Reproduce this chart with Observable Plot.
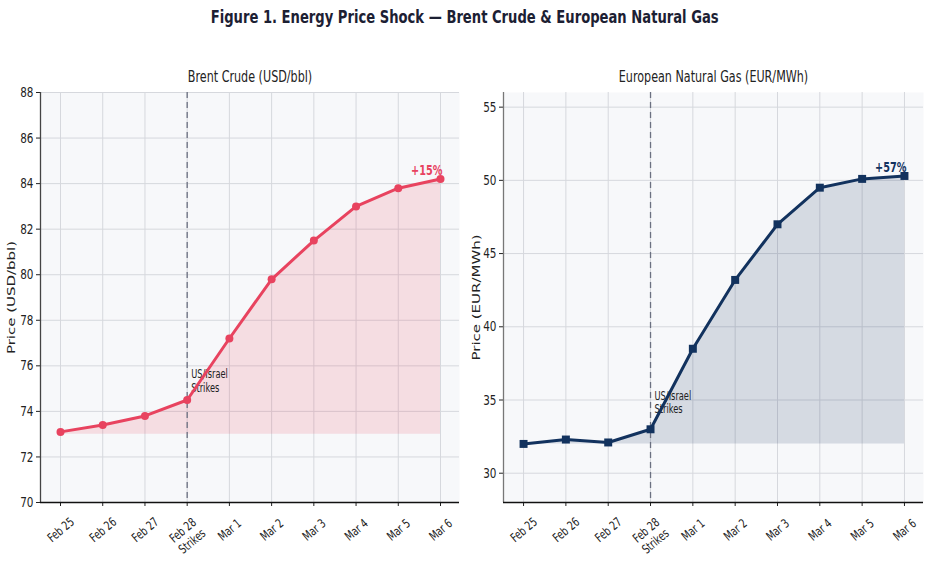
<!DOCTYPE html>
<html>
<head>
<meta charset="utf-8">
<script src="https://cdn.jsdelivr.net/npm/d3@7"></script>
<script src="https://cdn.jsdelivr.net/npm/@observablehq/plot@0.6"></script>
<style>
  body { margin: 0; background: #fff; width: 930px; height: 570px; overflow: hidden; font-family: "DejaVu Sans", sans-serif; }
  #title { height: 50px; text-align: center; }
  #title span { display: inline-block; margin-top: 6px; font-weight: bold; font-size: 18.5px; color: #1c2033; transform: scaleX(0.71); transform-origin: center; white-space: nowrap; }
  #panels { display: flex; }
  #panels svg { display: block; }
</style>
</head>
<body>
<div id="title"><span>Figure 1. Energy Price Shock — Brent Crude &amp; European Natural Gas</span></div>
<div id="panels"></div>
<script>
// Trading days shown on both panels
const days = ["Feb 25", "Feb 26", "Feb 27", "Feb 28", "Mar 1", "Mar 2", "Mar 3", "Mar 4", "Mar 5", "Mar 6"];
const strikeDay = "Feb 28";
const strikeNote = "US/Israel\nStrikes";

// Brent crude, USD per barrel
const brent = [73.1, 73.4, 73.8, 74.5, 77.2, 79.8, 81.5, 83.0, 83.8, 84.2];
const brentBase = 73.0;
const brentTicks = [70, 72, 74, 76, 78, 80, 82, 84, 86, 88];

// European natural gas (TTF), EUR per MWh
const gas = [32.0, 32.3, 32.1, 33.0, 38.5, 43.2, 47.0, 49.5, 50.1, 50.3];
const gasBase = 32.0;
const gasTicks = [30, 35, 40, 45, 50, 55];

const FONT = "DejaVu Sans";
const SQUEEZE = 0.72;
const yLabels = ["Price (USD/bbl)", "Price (EUR/MWh)"];

function panel(o) {
  const rows = days.map((day, i) => ({i, day, v: o.values[i]}));
  const last = rows[rows.length - 1];
  const si = days.indexOf(strikeDay);
  const idx = d3.range(days.length);
  const plain = idx.filter((i) => i !== si);
  const change = Math.round((last.v - rows[0].v) / rows[0].v * 100);
  const xDomain = [-0.474, days.length - 1 + 0.45];
  const tickText = {x: (i) => i, frameAnchor: "bottom", rotate: -40, textAnchor: "middle", lineAnchor: "middle", fontSize: 12.5, fill: "#222", lineHeight: 1.15};
  return Plot.plot({
    width: 465,
    height: 520,
    marginTop: 42,
    marginBottom: 68,
    marginLeft: o.marginLeft,
    marginRight: o.marginRight,
    style: {fontFamily: FONT, fontSize: "14px", color: "#222", background: "transparent", overflow: "visible"},
    x: {domain: xDomain, axis: null},
    y: {domain: o.yDomain, axis: null},
    marks: [
      Plot.frame({fill: "#f7f8fa", stroke: null}),
      Plot.gridX(idx, {stroke: "#d6d8dd", strokeOpacity: 1, strokeWidth: 1}),
      Plot.gridY(o.yTicks, {stroke: "#d6d8dd", strokeOpacity: 1, strokeWidth: 1}),
      Plot.areaY(rows, {x: "i", y1: o.base, y2: "v", fill: o.color, fillOpacity: 0.15}),
      Plot.ruleX([si], {stroke: "#6b7080", strokeWidth: 1.3, strokeDasharray: "6,4"}),
      Plot.text([strikeNote], {x: () => si, y: () => o.noteY, textAnchor: "start", lineAnchor: "top", dx: 4, fontSize: 11.5, fill: "#222", lineHeight: 1.2}),
      Plot.line(rows, {x: "i", y: "v", stroke: o.color, strokeWidth: 3}),
      Plot.dot(rows, {x: "i", y: "v", fill: o.color, stroke: null, symbol: o.symbol, r: o.r}),
      Plot.text([last], {x: "i", y: "v", text: () => `+${change}%`, textAnchor: "end", dx: 2, dy: -8, fontWeight: "bold", fontSize: 13.5, fill: o.color}),
      Plot.text([o.title], {frameAnchor: "top", lineAnchor: "middle", dy: -15, fontSize: 15.5, fill: "#222"}),
      Plot.axisY(o.yTicks, {tickSize: 4, tickPadding: 3, fontSize: 14.5, label: null, stroke: "#222"}),
      Plot.axisX(idx, {tickSize: 4, tickFormat: () => "", label: null, stroke: "#222"}),
      Plot.text(plain, {...tickText, text: (i) => days[i], dy: 27}),
      Plot.text([si], {...tickText, text: (i) => `${days[i]}\nStrikes`, dy: 33}),
      Plot.ruleX([xDomain[0]], {stroke: o.spine, strokeWidth: 1.3}),
      Plot.ruleY([o.yDomain[0]], {stroke: "#111", strokeWidth: 1.3}),
      Plot.text([o.yLabel], {frameAnchor: "left", textAnchor: "middle", lineAnchor: "middle", dx: o.labelDx, rotate: -90, fontSize: 15, fill: "#222"})
    ]
  });
}

// Narrow the horizontal type to the condensed look of the figure
function condense(svg) {
  svg.querySelectorAll("text").forEach((t) => {
    if (yLabels.includes(t.textContent)) {
      const tr = t.getAttribute("transform") || "";
      t.setAttribute("transform", tr + " scale(1,0.72)");
      return;
    }
    const parts = t.querySelectorAll("tspan");
    const targets = parts.length ? Array.from(parts) : [t];
    targets.forEach((el) => {
      const len = el.getComputedTextLength();
      if (len > 0) {
        el.setAttribute("textLength", (len * SQUEEZE).toFixed(2));
        el.setAttribute("lengthAdjust", "spacingAndGlyphs");
      }
    });
  });
}

const host = document.getElementById("panels");
const left = panel({
  title: "Brent Crude (USD/bbl)", values: brent, base: brentBase, yDomain: [70, 88], yTicks: brentTicks,
  color: "#e8435f", symbol: "circle", r: 4, noteY: 75.9, yLabel: yLabels[0],
  marginLeft: 40, marginRight: 6, labelDx: -29, spine: "#444"
});
const right = panel({
  title: "European Natural Gas (EUR/MWh)", values: gas, base: gasBase, yDomain: [28, 56], yTicks: gasTicks,
  color: "#12325e", symbol: "square", r: 4.5, noteY: 35.7, yLabel: yLabels[1],
  marginLeft: 38, marginRight: 7, labelDx: -27, spine: "#777"
});
host.append(left, right);
condense(left);
condense(right);
</script>
</body>
</html>
